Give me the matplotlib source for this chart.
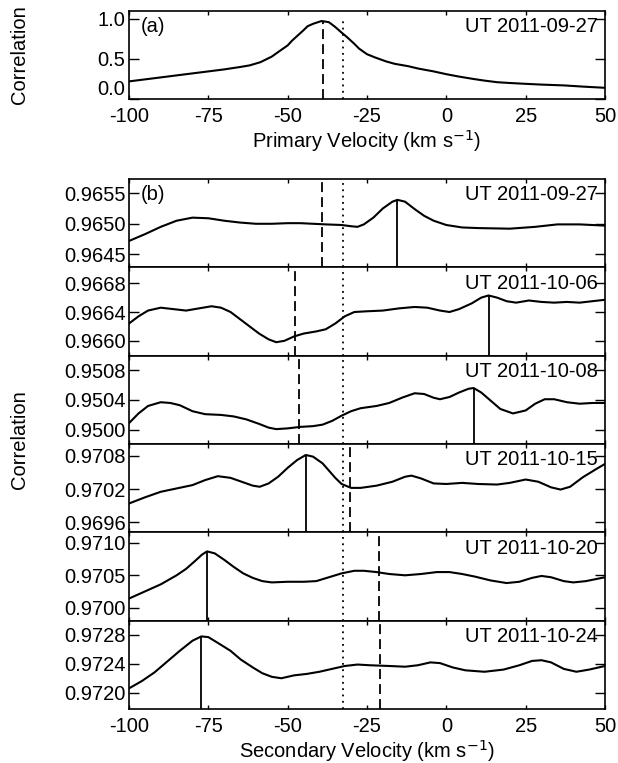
import matplotlib
matplotlib.use("Agg")
import matplotlib.pyplot as plt
import numpy as np

plt.rcParams['font.family'] = ['Liberation Sans', 'DejaVu Sans']
FS = 14.5

# ---------------- data ----------------
# Panel (a): primary CCF
va_x = [-100, -90, -80, -70, -65, -62, -58.6, -55, -53.6, -50, -48.6, -45, -43.7,
        -42, -39.3, -37, -35, -33, -31.2, -29, -27.5, -25, -22.5, -19, -16.3,
        -12, -8.8, -4, 0, 4, 8.6, 12, 16, 20, 24.8, 30, 37, 43, 50]
va_y = [0.22, 0.27, 0.32, 0.37, 0.40, 0.42, 0.46, 0.53, 0.57, 0.67, 0.73, 0.86, 0.91,
        0.94, 0.975, 0.96, 0.90, 0.83, 0.77, 0.69, 0.63, 0.56, 0.52, 0.47, 0.44,
        0.41, 0.38, 0.345, 0.31, 0.28, 0.25, 0.23, 0.21, 0.20, 0.19, 0.18, 0.17, 0.155, 0.14]
a_dashed = -39.0
a_dashed_top = 0.96
dotted_v = -32.5
a_date = "UT 2011-09-27"

dates = ["UT 2011-09-27", "UT 2011-10-06", "UT 2011-10-08",
         "UT 2011-10-15", "UT 2011-10-20", "UT 2011-10-24"]

b1_x = [-100, -95, -90, -85, -80, -75, -70, -65, -60, -55, -50, -46, -42, -38, -33,
        -30, -28, -26, -23, -20, -17, -15.4, -13, -10, -7, -4, 0, 5, 10, 20, 28,
        35, 42, 46, 50]
b1_y = [0.96472, 0.96483, 0.96495, 0.96505, 0.96510, 0.96509, 0.96505, 0.96502,
        0.96500, 0.96500, 0.96501, 0.96501, 0.96500, 0.96499, 0.96498, 0.96496,
        0.96495, 0.96499, 0.96510, 0.96525, 0.96536, 0.96539, 0.96536, 0.96524,
        0.96513, 0.96505, 0.96498, 0.96494, 0.96493, 0.96492, 0.96495, 0.96499,
        0.96499, 0.96498, 0.96497]

b2_x = [-100, -97, -94, -90, -86, -82, -78, -74, -71, -68, -65, -62, -59, -56,
        -53.6, -51, -48, -45, -41, -38, -35, -32, -29, -25, -20, -15, -10, -6, -2,
        1, 4, 8, 11, 13.3, 16, 19, 22, 26, 30, 34, 38, 42, 46, 50]
b2_y = [0.96624, 0.96634, 0.96642, 0.96646, 0.96644, 0.96642, 0.96645, 0.96648,
        0.96646, 0.96640, 0.96630, 0.96620, 0.96610, 0.96602, 0.96598, 0.96600,
        0.96606, 0.96610, 0.96613, 0.96616, 0.96624, 0.96634, 0.96640, 0.96641,
        0.96642, 0.96645, 0.96647, 0.96646, 0.96642, 0.96640, 0.96644, 0.96652,
        0.96660, 0.96663, 0.96660, 0.96655, 0.96653, 0.96656, 0.96654, 0.96653,
        0.96654, 0.96653, 0.96655, 0.96657]

b3_x = [-100, -97, -94, -90, -87, -84, -80, -76, -71, -67, -63, -59, -56, -53.6,
        -50, -46, -42, -39, -36, -33, -30, -27, -22, -18, -14, -10, -7, -4, -2, 1,
        4, 7, 8.6, 11, 14, 17, 21, 25, 28, 31, 34, 38, 42, 46, 50]
b3_y = [0.95009, 0.95022, 0.95032, 0.95037, 0.95036, 0.95033, 0.95025, 0.95021,
        0.95020, 0.95018, 0.95014, 0.95008, 0.95003, 0.95001, 0.95002, 0.95004,
        0.95005, 0.95007, 0.95012, 0.95019, 0.95025, 0.95029, 0.95032, 0.95036,
        0.95043, 0.95049, 0.95048, 0.95043, 0.95041, 0.95044, 0.95050, 0.95055,
        0.95056, 0.95050, 0.95039, 0.95028, 0.95022, 0.95026, 0.95035, 0.95041,
        0.95041, 0.95037, 0.95035, 0.95036, 0.95036]

b4_x = [-100, -95, -90, -85, -80, -76, -72, -68, -64, -61, -58.8, -56, -53, -50,
        -47, -44.3, -42, -39, -37, -35, -33, -30, -27, -22, -17, -13, -11, -8, -4,
        0, 5, 10, 16, 20, 25, 29, 33, 36, 39, 43, 47, 50]
b4_y = [0.96994, 0.97005, 0.97015, 0.97021, 0.97027, 0.97036, 0.97043, 0.97040,
        0.97032, 0.97026, 0.97024, 0.97030, 0.97042, 0.97058, 0.97072, 0.97081,
        0.97078, 0.97066, 0.97053, 0.97040, 0.97029, 0.97022, 0.97022, 0.97026,
        0.97033, 0.97042, 0.97044, 0.97039, 0.97030, 0.97029, 0.97031, 0.97029,
        0.97028, 0.97031, 0.97037, 0.97033, 0.97023, 0.97019, 0.97024, 0.97041,
        0.97055, 0.97065]

b5_x = [-100, -95, -90, -85, -82, -79, -77, -75.4, -73, -70, -67, -64, -61, -58,
        -55, -50, -45, -41, -37, -33, -29, -26, -22, -18, -13, -8, -3, 1, 5, 9,
        14, 19, 23, 27, 30, 33, 37, 40, 44, 50]
b5_y = [0.97014, 0.97025, 0.97036, 0.97050, 0.97060, 0.97073, 0.97082, 0.97087,
        0.97084, 0.97074, 0.97063, 0.97053, 0.97046, 0.97041, 0.97039, 0.97040,
        0.97040, 0.97041, 0.97047, 0.97053, 0.97057, 0.97057, 0.97055, 0.97052,
        0.97050, 0.97052, 0.97055, 0.97055, 0.97052, 0.97048, 0.97042, 0.97038,
        0.97040, 0.97046, 0.97049, 0.97047, 0.97041, 0.97039, 0.97041, 0.97047]

b6_x = [-100, -96, -92, -88, -84, -80, -77.2, -75, -72, -68, -64.8, -61, -58, -55,
        -52, -48, -44, -40, -36, -32, -28, -24, -18, -13, -9, -5, -2, 2, 6, 12,
        18, 23, 27, 30, 33, 37, 41, 45, 50]
b6_y = [0.97206, 0.97216, 0.97228, 0.97243, 0.97258, 0.97272, 0.97278, 0.97277,
        0.97269, 0.97258, 0.97246, 0.97235, 0.97227, 0.97222, 0.97220, 0.97224,
        0.97226, 0.97229, 0.97233, 0.97237, 0.97239, 0.97238, 0.97237, 0.97236,
        0.97238, 0.97242, 0.97241, 0.97235, 0.97231, 0.97229, 0.97232, 0.97238,
        0.97244, 0.97245, 0.97242, 0.97233, 0.97229, 0.97232, 0.97237]

b_curves_x = [b1_x, b2_x, b3_x, b4_x, b5_x, b6_x]
b_curves_y = [b1_y, b2_y, b3_y, b4_y, b5_y, b6_y]

# secondary peak (solid line), primary position (dashed)
peak_v = [-15.4, 13.3, 8.6, -44.3, -75.4, -77.2]
peak_y = [0.96539, 0.96663, 0.95056, 0.97081, 0.97087, 0.97278]
dashed_v = [-39.1, -47.6, -46.4, -30.2, -21.3, -20.9]

b_ylims = [(0.96429, 0.96573), (0.965793, 0.967021), (0.949811, 0.950993),
           (0.969423, 0.971007), (0.969798, 0.971165), (0.971774, 0.972998)]
b_yticks = [[0.9645, 0.9650, 0.9655], [0.9660, 0.9664, 0.9668],
            [0.9500, 0.9504, 0.9508], [0.9696, 0.9702, 0.9708],
            [0.9700, 0.9705, 0.9710], [0.9720, 0.9724, 0.9728]]

xticks = [-100, -75, -50, -25, 0, 25, 50]

# ---------------- layout ----------------
W, H = 618, 763
fig = plt.figure(figsize=(W / 100, H / 100), dpi=100)
L, R = 129, 605


def ax_at(top, bottom):
    return fig.add_axes([L / W, 1 - bottom / H, (R - L) / W, (bottom - top) / H])


def style(ax):
    ax.set_xlim(-100, 50)
    ax.set_xticks(xticks)
    ax.tick_params(axis='both', direction='in', top=True, right=True,
                   labelsize=FS, width=1.0)
    ax.tick_params(axis='y', length=7, pad=2.5)
    ax.tick_params(axis='x', length=3, pad=6)
    for s in ax.spines.values():
        s.set_linewidth(1.2)


LW = 1.5
dash = (0, (5.5, 2.8))
dot = (0, (1, 2.5))

# panel (a)
axa = ax_at(11, 99)
style(axa)
axa.plot(va_x, va_y, color='k', lw=LW)
axa.set_ylim(0, 1.1)
axa.set_yticks([0.0, 0.5, 1.0])
axa.set_yticklabels(["0.0", "0.5", "1.0"])
axa.get_yticklabels()[0].set_va('bottom')
axa.vlines(a_dashed, 0, a_dashed_top, color='k', lw=1.3, linestyles=[dash])
axa.vlines(dotted_v, 0, 1.02, color='k', lw=1.3, linestyles=[dot])
axa.text(0.025, 0.93, "(a)", transform=axa.transAxes, fontsize=FS, va='top', ha='left')
axa.text(0.985, 0.93, a_date, transform=axa.transAxes, fontsize=FS, va='top', ha='right')
axa.set_xticklabels([str(t) for t in xticks])
axa.set_xlabel("Primary Velocity (km s$^{-1}$)", fontsize=FS, labelpad=1)

# panels (b)
tops = np.linspace(179, 709, 7)
for i in range(6):
    ax = ax_at(tops[i], tops[i + 1])
    style(ax)
    ax.plot(b_curves_x[i], b_curves_y[i], color='k', lw=LW)
    ax.set_ylim(*b_ylims[i])
    ax.set_yticks(b_yticks[i])
    ax.set_yticklabels([f"{t:.4f}" for t in b_yticks[i]])
    ylo = b_ylims[i][0]
    ax.vlines(peak_v[i], ylo, peak_y[i], color='k', lw=1.3)
    ax.axvline(dashed_v[i], color='k', lw=1.3, linestyle=dash)
    ax.axvline(dotted_v, color='k', lw=1.3, linestyle=dot)
    ax.text(0.985, 0.93, dates[i], transform=ax.transAxes, fontsize=FS,
            va='top', ha='right')
    if i == 0:
        ax.text(0.025, 0.93, "(b)", transform=ax.transAxes, fontsize=FS,
                va='top', ha='left')
    if i < 5:
        ax.set_xticklabels([])
    else:
        ax.set_xticklabels([str(t) for t in xticks])
        ax.set_xlabel("Secondary Velocity (km s$^{-1}$)", fontsize=FS, labelpad=1)

fig.text(20 / W, 1 - 440 / H, "Correlation", rotation=90, fontsize=FS,
         ha='center', va='center')
fig.text(20 / W, 1 - 55 / H, "Correlation", rotation=90, fontsize=FS,
         ha='center', va='center')

fig.savefig("out.png", dpi=100)
